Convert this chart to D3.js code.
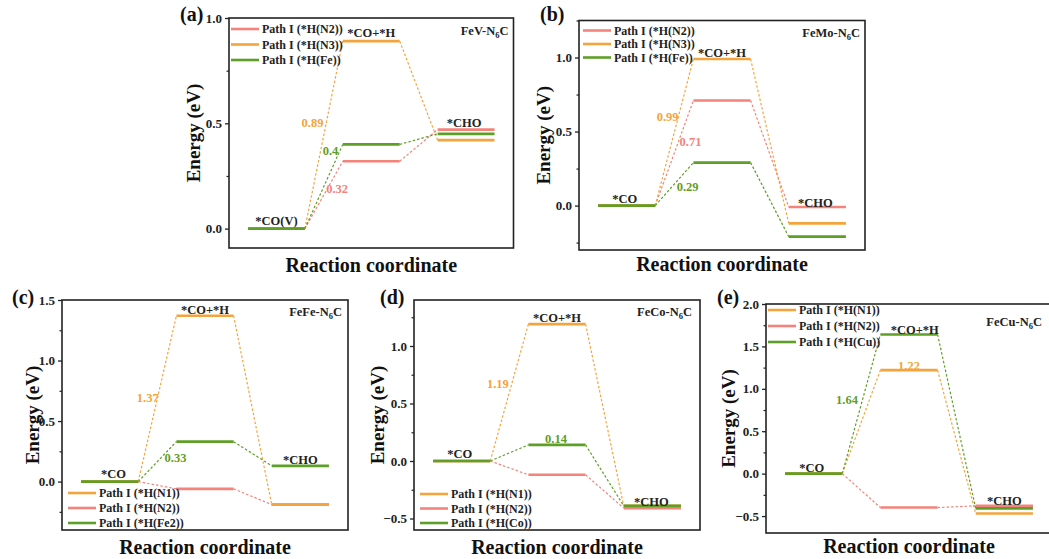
<!DOCTYPE html>
<html>
<head>
<meta charset="utf-8">
<script src="https://cdn.jsdelivr.net/npm/d3@7"></script>
<style>
  body { margin: 0; background: #fff; }
  svg text { font-family: "Liberation Serif", "Times New Roman", serif; font-weight: bold; }
</style>
</head>
<body>
<div class="chart"></div>
<script>
// ---- data ----
var letters = ["(a)", "(b)", "(c)", "(d)", "(e)"];
var catalysts = ["FeV", "FeMo", "FeFe", "FeCo", "FeCu"];

var stagesA = ["*CO(V)", "*CO+*H", "*CHO"];
var stages = ["*CO", "*CO+*H", "*CHO"];

var legendA = ["Path I (*H(N2))", "Path I (*H(N3))", "Path I (*H(Fe))"];
var legendB = ["Path I (*H(N2))", "Path I (*H(N3))", "Path I (*H(Fe))"];
var legendC = ["Path I (*H(N1))", "Path I (*H(N2))", "Path I (*H(Fe2))"];
var legendD = ["Path I (*H(N1))", "Path I (*H(N2))", "Path I (*H(Co))"];
var legendE = ["Path I (*H(N1))", "Path I (*H(N2))", "Path I (*H(Cu))"];

// energies (eV) per path, for *CO, *CO+*H, *CHO
var energyA = [[0, 0.32, 0.47], [0, 0.89, 0.42], [0, 0.40, 0.45]];
var energyB = [[0, 0.71, -0.01], [0, 0.99, -0.12], [0, 0.29, -0.21]];
var energyC = [[0, 1.37, -0.19], [0, -0.06, -0.19], [0, 0.33, 0.13]];
var energyD = [[0, 1.19, -0.39], [0, -0.12, -0.41], [0, 0.14, -0.39]];
var energyE = [[0, 1.22, -0.47], [0, -0.40, -0.38], [0, 1.64, -0.41]];

// barrier labels per path (null = none)
var barrierA = ["0.32", "0.89", "0.4"];
var barrierB = ["0.71", "0.99", "0.29"];
var barrierC = ["1.37", null, "0.33"];
var barrierD = ["1.19", null, "0.14"];
var barrierE = ["1.22", null, "1.64"];

var RED = "#f3837b", ORANGE = "#f4a43c", GREEN = "#5e9f28";

// ---- layout ----
var svgWidth = 1049, svgHeight = 559;

var svg = d3.select(".chart").append("svg")
  .attr("width", svgWidth)
  .attr("height", svgHeight);

var panels = [
  { letter: letters[0], cat: catalysts[0], stages: stagesA, legend: legendA, energy: energyA, barrier: barrierA,
    colors: [RED, ORANGE, GREEN],
    box: { l: 229, t: 18, r: 513.5, b: 248 }, yDomain: [-0.092, 1.0],
    letterPos: [180, 21], yTitleDx: -36, xTitleDy: 24, titlePos: [-5, 17],
    leg: { x: 2, y: 11, dy: 15.5, fromTop: true },
    stagePos: [[1.0, 0.035], [2.0, 0.93], [2.98, 0.50]],
    barrierPos: [[1.64, 0.19], [1.38, 0.50], [1.57, 0.37]] },
  { letter: letters[1], cat: catalysts[1], stages: stages, legend: legendB, energy: energyB, barrier: barrierB,
    colors: [RED, ORANGE, GREEN],
    box: { l: 579, t: 20.5, r: 865, b: 250 }, yDomain: [-0.3, 1.25],
    letterPos: [540, 21], yTitleDx: -36, xTitleDy: 21, titlePos: [-5, 16],
    leg: { x: 4, y: 10, dy: 13.5, fromTop: true },
    stagePos: [[0.98, 0.045], [2.0, 1.03], [2.98, 0.02]],
    barrierPos: [[1.67, 0.43], [1.43, 0.597], [1.64, 0.125]] },
  { letter: letters[2], cat: catalysts[2], stages: stages, legend: legendC, energy: energyC, barrier: barrierC,
    colors: [ORANGE, RED, GREEN],
    box: { l: 62, t: 300, r: 348, b: 530 }, yDomain: [-0.4, 1.5],
    letterPos: [12, 304], yTitleDx: -30, xTitleDy: 24, titlePos: [-6, 16],
    leg: { x: 6, y: -37, dy: 15, fromTop: false },
    stagePos: [[1.04, 0.063], [2.0, 1.42], [3.0, 0.18]],
    barrierPos: [[1.40, 0.69], null, [1.69, 0.195]] },
  { letter: letters[3], cat: catalysts[3], stages: stages, legend: legendD, energy: energyD, barrier: barrierD,
    colors: [ORANGE, RED, GREEN],
    box: { l: 414, t: 300, r: 700, b: 530 }, yDomain: [-0.6, 1.4],
    letterPos: [380, 304], yTitleDx: -37, xTitleDy: 24, titlePos: [-8, 16],
    leg: { x: 6, y: -36, dy: 14.5, fromTop: false },
    stagePos: [[0.98, 0.06], [2.0, 1.24], [2.99, -0.357]],
    barrierPos: [[1.38, 0.67], null, [1.99, 0.19]] },
  { letter: letters[4], cat: catalysts[4], stages: stages, legend: legendE, energy: energyE, barrier: barrierE,
    colors: [ORANGE, RED, GREEN],
    box: { l: 766, t: 304, r: 1052, b: 533 }, yDomain: [-0.7, 2.0],
    letterPos: [717, 304], yTitleDx: -38, xTitleDy: 20, titlePos: [-10, 22],
    leg: { x: 2, y: 6, dy: 16, fromTop: true },
    stagePos: [[0.98, 0.066], [2.06, 1.69], [3.0, -0.32]],
    barrierPos: [[2.0, 1.27], null, [1.35, 0.87]] }
];

// red paths go underneath the others
var drawRank = {};
drawRank[RED] = 0; drawRank[ORANGE] = 1; drawRank[GREEN] = 2;

var halfW = 0.3;

panels.forEach(function(p) {
  var box = p.box;
  var x = d3.scaleLinear().domain([0.5, 3.5]).range([box.l, box.r]);
  var y = d3.scaleLinear().domain(p.yDomain).range([box.b, box.t]);
  var g = svg.append("g");

  // ticks every 0.5, minor every 0.25
  var lo = p.yDomain[0], hi = p.yDomain[1];
  var major = d3.range(Math.ceil(lo / 0.5 - 1e-9) * 0.5, hi + 1e-9, 0.5);
  var minor = d3.range(Math.ceil(lo / 0.25 - 1e-9) * 0.25, hi + 1e-9, 0.25)
    .filter(function(v) { return Math.abs(v / 0.5 - Math.round(v / 0.5)) > 1e-6; });

  var yAxis = g.append("g")
    .attr("transform", "translate(" + box.l + ",0)")
    .call(d3.axisLeft(y).tickValues(major).tickFormat(d3.format(".1f")).tickSize(4).tickPadding(3));
  yAxis.select(".domain").remove();
  yAxis.selectAll("text").attr("font-size", 13).attr("fill", "#222");
  yAxis.selectAll("line").attr("stroke", "#222").attr("stroke-width", 1.3);

  var yMinor = g.append("g")
    .attr("transform", "translate(" + box.l + ",0)")
    .call(d3.axisLeft(y).tickValues(minor).tickFormat("").tickSize(2.5));
  yMinor.select(".domain").remove();
  yMinor.selectAll("line").attr("stroke", "#222").attr("stroke-width", 1.2);

  // frame
  g.append("rect")
    .attr("x", box.l).attr("y", box.t)
    .attr("width", box.r - box.l).attr("height", box.b - box.t)
    .attr("fill", "none").attr("stroke", "#222").attr("stroke-width", 1.6);

  // paths
  var order = d3.range(p.energy.length).sort(function(a, b) {
    return drawRank[p.colors[a]] - drawRank[p.colors[b]];
  });

  order.forEach(function(si) {
    var e = p.energy[si], col = p.colors[si];
    // dashed connectors
    for (var i = 0; i < e.length - 1; i++) {
      g.append("line")
        .attr("x1", x(i + 1 + halfW)).attr("y1", y(e[i]))
        .attr("x2", x(i + 2 - halfW)).attr("y2", y(e[i + 1]))
        .attr("stroke", col).attr("stroke-width", 1.2)
        .attr("stroke-dasharray", "2.5,2");
    }
  });
  order.forEach(function(si) {
    var e = p.energy[si], col = p.colors[si];
    g.selectAll(null).data(e).enter().append("line")
      .attr("x1", function(d, i) { return x(i + 1 - halfW); })
      .attr("x2", function(d, i) { return x(i + 1 + halfW); })
      .attr("y1", function(d) { return y(d); })
      .attr("y2", function(d) { return y(d); })
      .attr("stroke", col).attr("stroke-width", 2.6);
  });

  // stage labels
  p.stages.forEach(function(s, i) {
    g.append("text")
      .attr("x", x(p.stagePos[i][0])).attr("y", y(p.stagePos[i][1]))
      .attr("text-anchor", "middle").attr("dominant-baseline", "central")
      .attr("font-size", 12.5).attr("fill", "#222")
      .text(s);
  });

  // barrier values
  p.barrier.forEach(function(b, si) {
    if (!b) return;
    g.append("text")
      .attr("x", x(p.barrierPos[si][0])).attr("y", y(p.barrierPos[si][1]))
      .attr("text-anchor", "middle").attr("dominant-baseline", "central")
      .attr("font-size", 12.5).attr("fill", p.colors[si])
      .text(b);
  });

  // legend
  var legY0 = p.leg.fromTop ? box.t + p.leg.y : box.b + p.leg.y;
  p.legend.forEach(function(name, si) {
    var ly = legY0 + si * p.leg.dy;
    g.append("line")
      .attr("x1", box.l + p.leg.x).attr("x2", box.l + p.leg.x + 28)
      .attr("y1", ly).attr("y2", ly)
      .attr("stroke", p.colors[si]).attr("stroke-width", 2.6);
    g.append("text")
      .attr("x", box.l + p.leg.x + 31).attr("y", ly)
      .attr("dominant-baseline", "central")
      .attr("font-size", 12).attr("fill", "#222")
      .text(name);
  });

  // catalyst title with subscript
  var t = g.append("text")
    .attr("x", box.r + p.titlePos[0]).attr("y", box.t + p.titlePos[1])
    .attr("text-anchor", "end").attr("font-size", 12.5).attr("fill", "#222");
  t.append("tspan").text(p.cat + "-N");
  t.append("tspan").attr("font-size", 8.5).attr("dy", 3).text("6");
  t.append("tspan").attr("dy", -3).text("C");

  // panel letter
  g.append("text")
    .attr("x", p.letterPos[0]).attr("y", p.letterPos[1])
    .attr("font-size", 20).attr("fill", "#111")
    .text(p.letter);

  // axis titles
  g.append("text")
    .attr("transform", "translate(" + (box.l + p.yTitleDx) + "," + ((box.t + box.b) / 2) + ") rotate(-90)")
    .attr("text-anchor", "middle").attr("dominant-baseline", "central")
    .attr("font-size", 19).attr("fill", "#111")
    .text("Energy (eV)");

  g.append("text")
    .attr("x", (box.l + Math.min(box.r, 1052)) / 2).attr("y", box.b + p.xTitleDy)
    .attr("text-anchor", "middle")
    .attr("font-size", 20).attr("fill", "#111")
    .text("Reaction coordinate");
});
</script>
</body>
</html>
